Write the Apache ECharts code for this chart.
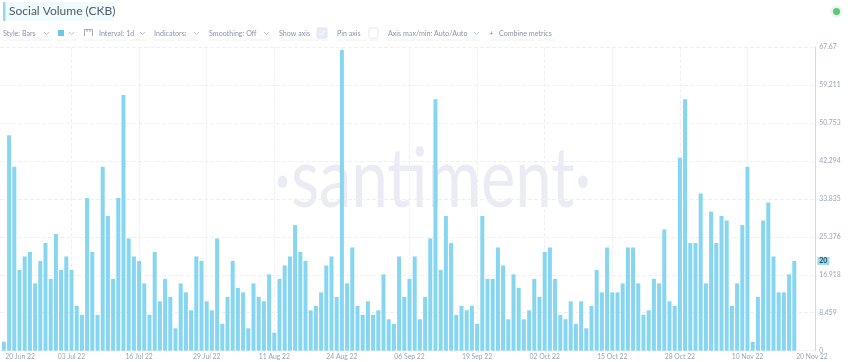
<!DOCTYPE html>
<html><head><meta charset="utf-8">
<style>html,body{margin:0;padding:0;background:#fff}#c{width:850px;height:362px}</style>
<script src="https://cdn.jsdelivr.net/npm/echarts@6/dist/echarts.min.js"></script>
</head><body><div id="c"></div>
<script>
const socialVolume = [
 2,48,41,18,21,22,15,20,24,16,26,18,21,18,10,8,34,22,8,41,30,16,34,57,25,21,20,15,8,22,11,16,12,5,15,13,9,21,20,11,
 9,25,6,12,20,14,13,5,15,12,11,17,4,16,19,21,28,22,20,9,10,13,19,21,12,67,15,23,10,8,11,8,9,17,7,6,21,12,16,21,
 7,12,25,56,18,30,24,8,10,9,10,6,30,16,16,23,19,7,17,14,7,9,16,12,22,23,16,8,7,11,6,11,5,10,18,13,23,13,13,
 15,23,23,15,8,9,16,15,27,11,10,43,56,24,24,35,15,31,24,30,29,10,15,28,41,2,12,29,33,21,13,13,17,20];
const dateLabels = ['03 Jul 22','16 Jul 22','29 Jul 22','11 Aug 22','24 Aug 22','06 Sep 22','19 Sep 22','02 Oct 22','15 Oct 22','28 Oct 22','10 Nov 22'];
const dateTickDays = [13,26,39,52,65,78,91,104,117,130,143];
const firstLabel = '20 Jun 22', lastLabel = '20 Nov 22';
const yTickLabels = ['0','8.459','16.918','25.376','33.835','42.294','50.753','59.211','67.67'];
const lastValue = 20;
const yMax = 67.67;

const F = 'Lato, "Open Sans", sans-serif';
const TXT = '#8b94ab';
const toolbarTexts = [
 ['Style: Bars',3],['Interval: 1d',99],['Indicators:',154],['Smoothing: Off',209],['Show axis',279],['Pin axis',337],['Axis max/min: Auto/Auto',388],['Combine metrics',499]
];
const chevrons = [44,69,140,194,264,474];
const underlines = [[3,52],[56,76],[84,147],[154,200],[209,270],[279,328],[337,379],[388,480],[490,555]];

const g = [];
// watermark
g.push({type:'text',x:274,y:138,scaleX:0.775,z:0,silent:true,style:{text:'·santiment·',font:'400 84px '+F,fill:'#ebebf3'}});
// title chip
g.push({type:'rect',shape:{x:3,y:2,width:110,height:19,r:2},style:{fill:'#f1fbfc'}});
g.push({type:'rect',shape:{x:3,y:2,width:2.5,height:19},style:{fill:'#8fdcec'}});
g.push({type:'text',left:9,top:5,style:{text:'Social Volume (CKB)',font:'12px '+F,fill:'#505a70'}});
g.push({type:'text',left:97,top:5,style:{text:'⋮',font:'11px '+F,fill:'#9aa3b5'}});
// status dot
g.push({type:'circle',shape:{cx:836.5,cy:11.5,r:6},style:{fill:'#eaf7ec'}});
g.push({type:'circle',shape:{cx:836.5,cy:11.5,r:3.5},style:{fill:'#5cc878'}});
// toolbar
toolbarTexts.forEach(t=>g.push({type:'text',x:t[1],y:29,scaleX:0.89,style:{text:t[0],font:'8px '+F,fill:TXT}}));
chevrons.forEach(x=>g.push({type:'polyline',shape:{points:[[x,32],[x+2.5,34.5],[x+5,32]]},style:{stroke:'#aab2c4',lineWidth:0.8,fill:null}}));
underlines.forEach(u=>g.push({type:'line',shape:{x1:u[0],y1:40,x2:u[1],y2:40},style:{stroke:'#f1f2f6',lineWidth:1}}));
g.push({type:'rect',shape:{x:58,y:30,width:6,height:6},style:{fill:'#68c9ea'}});
g.push({type:'polyline',shape:{points:[[84.5,36],[84.5,29.5],[92.5,29.5],[92.5,36]]},style:{stroke:'#8b94ab',lineWidth:0.8,fill:null}});
g.push({type:'line',shape:{x1:87,y1:29.5,x2:87,y2:32},style:{stroke:'#8b94ab',lineWidth:0.8}});
g.push({type:'line',shape:{x1:90,y1:29.5,x2:90,y2:32},style:{stroke:'#8b94ab',lineWidth:0.8}});
g.push({type:'rect',shape:{x:317,y:28,width:10,height:10,r:1},style:{fill:'#e9ebf3',stroke:'#e3e6ef'}});
g.push({type:'polyline',shape:{points:[[319.5,33],[321.5,35],[324.5,31]]},style:{stroke:'#fff',lineWidth:1,fill:null}});
g.push({type:'rect',shape:{x:369,y:28,width:9,height:10,r:1},style:{fill:'#fff',stroke:'#e6e8ef'}});
g.push({type:'text',left:489,top:29,style:{text:'+',font:'8px '+F,fill:TXT}});

const chart = echarts.init(document.getElementById('c'),null,{renderer:'canvas'});
const ALL_LABELS = [3.1].concat(dateTickDays,[155.4]);
chart.setOption({
 animation:false,
 backgroundColor:'#fff',
 graphic:{z:0,elements:g},
 grid:{left:0,right:34.7,top:47,bottom:11.3},
 xAxis:{type:'value',min:-0.75,max:156.04,
  axisLine:{show:false},
  axisTick:{show:false,customValues:dateTickDays},
  axisLabel:{show:true,customValues:ALL_LABELS,margin:3,fontSize:6.8,fontFamily:F,color:'#9ba4ba',
    showMinLabel:true,showMaxLabel:true,hideOverlap:false,
    formatter:v=>{const i=dateTickDays.indexOf(v);return i>=0?dateLabels[i]:(v<50?firstLabel:lastLabel);}},
  splitLine:{show:true,lineStyle:{color:'#eef0f4',type:'dashed',width:1}}},
 yAxis:{type:'value',position:'right',min:0,max:yMax,interval:yMax/8,
  axisLine:{show:true,onZero:false,lineStyle:{color:'#b5e4f4',width:1}},
  axisTick:{show:false},
  axisLabel:{margin:4,fontSize:6.8,fontFamily:F,color:'#9ba4ba',showMaxLabel:true,
    formatter:(v)=>yTickLabels[Math.round(v/(yMax/8))]},
  splitLine:{show:true,lineStyle:{color:'#eef0f4',type:'dashed',width:1}}},
 series:[{type:'bar',barWidth:4,z:3,
  itemStyle:{color:'#86d6f1'},
  data:socialVolume.map((v,i)=>[i,v]),
  markLine:{silent:true,symbol:'none',animation:false,
   lineStyle:{color:'rgba(0,0,0,0)'},
   label:{show:true,position:'end',distance:2,formatter:String(lastValue),fontSize:7,fontWeight:'bold',fontFamily:F,color:'#1f4a5a',backgroundColor:'#9fdcee',padding:[1,2,0,2]},
   data:[{yAxis:lastValue}]}}]
});
</script></body></html>
